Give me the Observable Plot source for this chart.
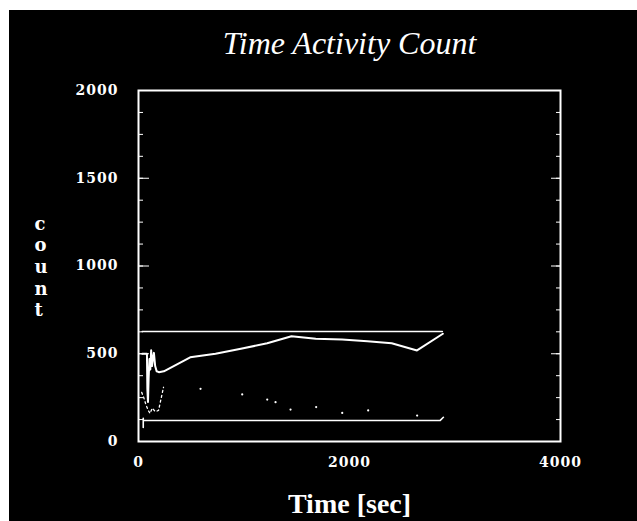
<!DOCTYPE html>
<html><head><meta charset="utf-8">
<script src="https://cdn.jsdelivr.net/npm/d3@7"></script>
<script src="https://cdn.jsdelivr.net/npm/@observablehq/plot@0.6"></script>
<style>
html,body{margin:0;padding:0;background:#fff;}
#chart{position:absolute;left:9px;top:10px;}
.tac g[aria-label="y-axis tick label"] text,
.tac g[aria-label="x-axis tick label"] text{letter-spacing:1px;}
</style></head><body><div id="chart"></div>
<script>
// Main time-activity curve (seconds, counts)
const mainT = [35, 80, 84, 90, 96, 104, 112, 120, 128, 136, 146, 158, 172, 193, 240, 490, 730, 970, 1220, 1450, 1680, 1930, 2170, 2400, 2640, 2885];
const mainC = [500, 500, 300, 225, 360, 470, 410, 520, 430, 470, 505, 430, 400, 395, 400, 480, 500, 528, 560, 600, 585, 581, 571, 560, 519, 614];
// Upper and lower bound traces
const upperT = [35, 2880];
const upperC = [627, 627];
const lowerT = [45, 45, 45, 2860, 2890];
const lowerC = [80, 132, 120, 120, 138];
// Faint dotted trace (early part)
const lowT = [30, 50, 70, 90, 110, 130, 160, 190, 237];
const lowC = [280, 250, 210, 180, 160, 190, 170, 177, 309];
// Sparse dots of the faint trace
const sparseT = [588, 983, 1220, 1299, 1441, 1684, 1931, 2177, 2641];
const sparseC = [300, 268, 239, 224, 182, 196, 163, 177, 148];
// Ticks and labels
const yMajor = [0, 500, 1000, 1500, 2000];
const yMinor = d3.range(0, 2001, 125);
const xMajor = [0, 2000, 4000];
const titleText = "Time Activity Count";
const xLabel = "Time [sec]";
const yLabel = "c\no\nu\nn\nt";

const toRows = (T, C) => T.map((t, i) => ({t, c: C[i]}));

const plot = Plot.plot({
  width: 628, height: 511,
  marginLeft: 129, marginRight: 77, marginTop: 80, marginBottom: 80,
  className: "tac",
  style: {background: "black", color: "white", fontFamily: "DejaVu Serif", overflow: "visible"},
  x: {domain: [0, 4000], label: null},
  y: {domain: [0, 2000], label: null},
  marks: [
    Plot.frame({stroke: "white", strokeWidth: 2}),
    Plot.axisY({ticks: yMinor, tickSize: -5, tickFormat: () => "", label: null}),
    Plot.axisY({ticks: yMajor, tickSize: -11, tickFormat: () => "", label: null}),
    Plot.axisY({anchor: "right", ticks: yMinor, tickSize: -5, tickFormat: () => "", label: null}),
    Plot.axisY({anchor: "right", ticks: yMajor, tickSize: -10, tickFormat: () => "", label: null}),
    Plot.axisY({ticks: yMajor, tickSize: 0, tickPadding: 20, fontSize: 14, fontWeight: "bold", tickFormat: d => String(d), label: null}),
    Plot.axisX({ticks: xMajor, tickSize: 0, tickPadding: 16, fontSize: 14, fontWeight: "bold", tickFormat: d => String(d), label: null}),
    Plot.line(toRows(upperT, upperC), {x: "t", y: "c", stroke: "white", strokeWidth: 1.6}),
    Plot.line(toRows(lowerT, lowerC), {x: "t", y: "c", stroke: "white", strokeWidth: 1.6}),
    Plot.line(toRows(lowT, lowC), {x: "t", y: "c", stroke: "white", strokeWidth: 1.3, strokeDasharray: "2,3"}),
    Plot.dot(toRows(sparseT, sparseC), {x: "t", y: "c", r: 1.1, fill: "white", stroke: null}),
    Plot.line(toRows(mainT, mainC), {x: "t", y: "c", stroke: "white", strokeWidth: 2}),
    Plot.text([titleText], {text: d => d, frameAnchor: "top", dy: -37, lineAnchor: "bottom", fontSize: 32, fontStyle: "italic", fontFamily: "Liberation Serif"}),
    Plot.text([xLabel], {text: d => d, frameAnchor: "bottom", dy: 71, lineAnchor: "bottom", fontSize: 28, fontWeight: "bold", fontFamily: "Liberation Serif"}),
    Plot.text([yLabel], {text: d => d, frameAnchor: "left", dx: -104, lineAnchor: "middle", lineHeight: 1.2, fontSize: 18, fontWeight: "bold", fontFamily: "DejaVu Serif"})
  ]
});
document.getElementById("chart").appendChild(plot);
</script></body></html>
